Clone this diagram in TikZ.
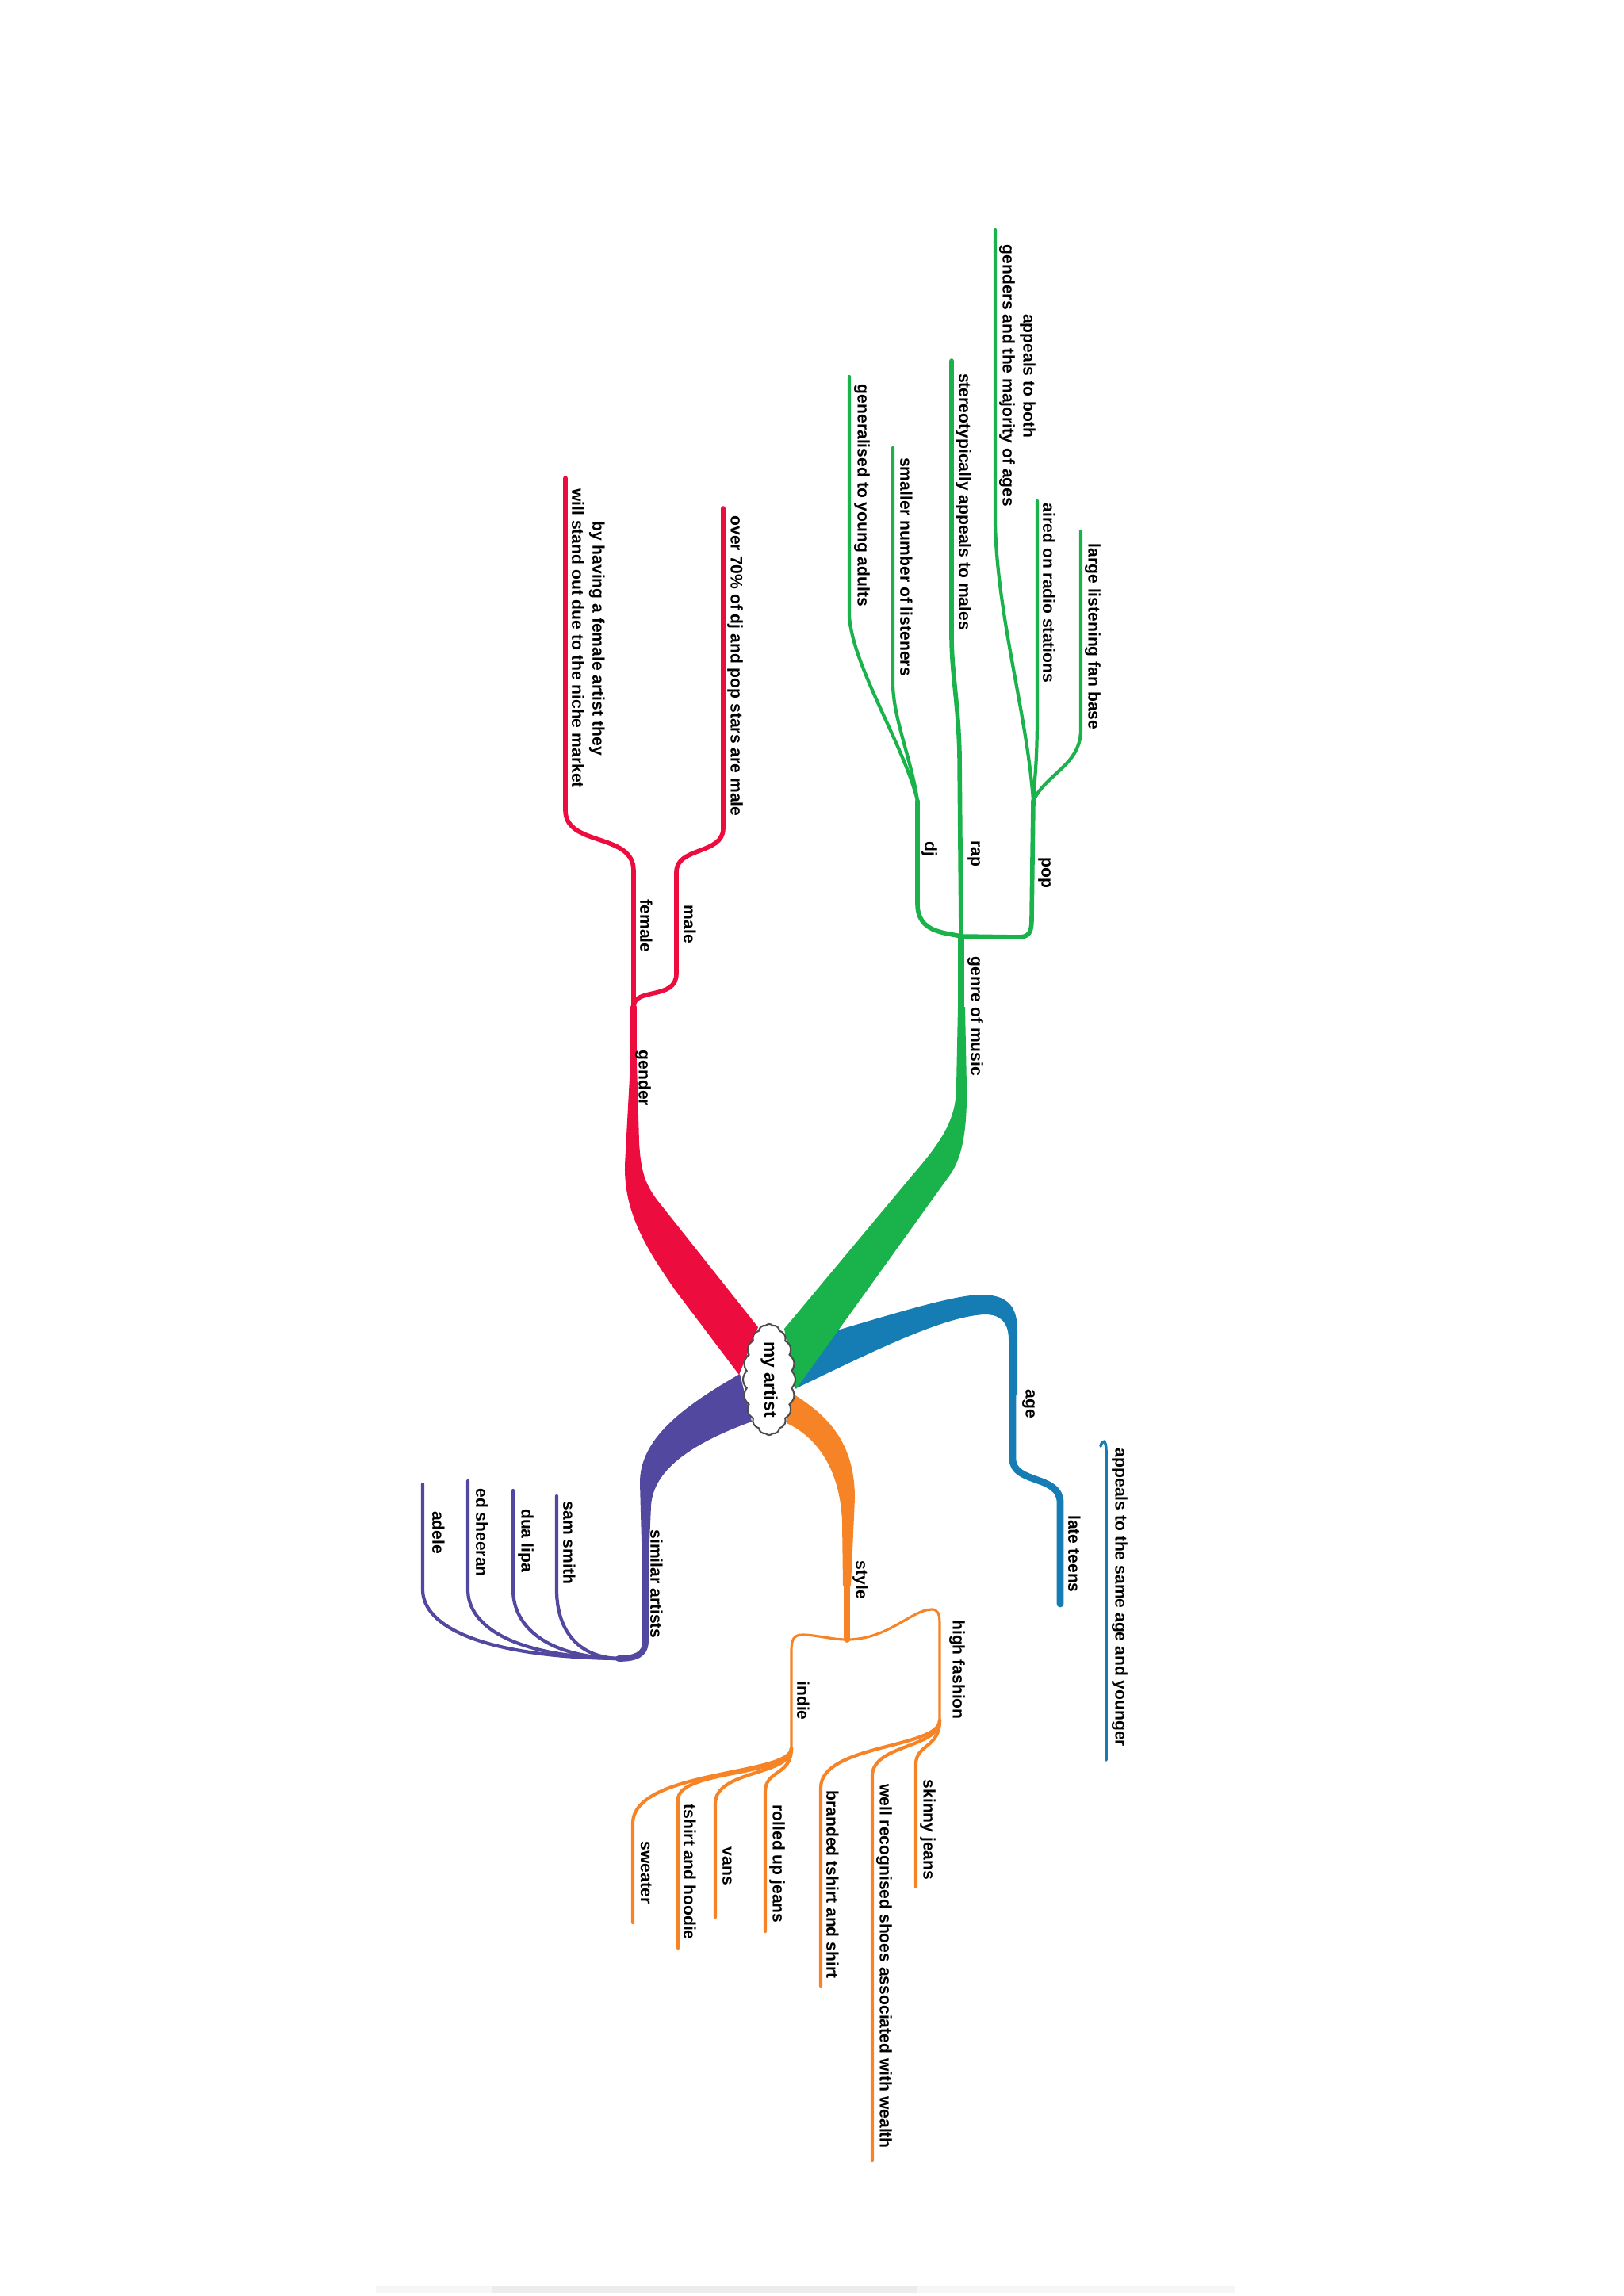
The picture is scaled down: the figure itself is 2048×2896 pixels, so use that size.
\documentclass[tikz,border=0pt]{standalone}
\usepackage{fontspec}
\setmainfont{Liberation Sans}
\usetikzlibrary{shapes.symbols}

\definecolor{branchred}{RGB}{236,12,62}
\definecolor{branchgreen}{RGB}{26,178,74}
\definecolor{branchblue}{RGB}{22,124,180}
\definecolor{branchpurple}{RGB}{82,72,160}
\definecolor{branchorange}{RGB}{246,132,38}

\tikzset{
    lbl/.style={rotate=-90, inner sep=0pt, align=center, font=\fontsize{6}{7.4}\selectfont\bfseries},
    stem/.style={line width=2.4pt, line cap=round},
    sub/.style={line width=1.6pt, line cap=round},
    twig/.style={line width=1.2pt, line cap=round},
    thread/.style={line width=0.9pt, line cap=round},
}

\begin{document}
\begin{tikzpicture}[x=0.01cm, y=-0.01cm]
            \useasboundingbox (0,0) rectangle (2048,2896);
            % faint scan edge
            \fill[gray!7] (474,2883) rectangle (1557,2892);
            \fill[gray!15] (621,2883) rectangle (1157,2892);

            % junctions and free ends
            \coordinate (jg) at (799,1270);
            \coordinate (male) at (912,641);
            \coordinate (female) at (713,603);
            \coordinate (jm) at (1212,1181);
            \coordinate (jdj) at (1157,1010);
            \coordinate (jpop) at (1303,1010);
            \coordinate (ja) at (780,2092);
            \coordinate (js) at (1068,2068);
            \coordinate (jhf) at (1185,2170);
            \coordinate (jin) at (998,2205);

            % gender
            \fill[branchred] (932,1734) -- (852,1628) .. controls (815,1575) and (787,1530) .. (788,1470) -- (795,1340) -- (803,1340) -- (806,1440) .. controls (808,1480) and (815,1495) .. (829,1514) -- (956,1674) -- cycle;
            \draw[branchred, stem, line width=2pt] (799,1345) -- (jg);
            \draw[branchred, sub] (jg) .. controls (799,1245) and (853,1262) .. (853,1228) -- (853,1100) .. controls (853,1068) and (912,1078) .. (912,1045) -- (male);
            \draw[branchred, sub] (jg) -- (799,1098) .. controls (799,1050) and (713,1068) .. (713,1022) -- (female);

            % similar artists
            \fill[branchpurple] (933,1733) .. controls (860,1775) and (807,1815) .. (807,1870) -- (809,1945) -- (819,1945) -- (821,1900) .. controls (823,1860) and (860,1825) .. (948,1793) -- cycle;
            \draw[branchpurple, stem, line width=2.2pt] (814,1940) -- (814,2070) .. controls (814,2088) and (800,2092) .. (ja);
            \foreach \lx/\ly/\lc in {702/1887/725, 647/1880/690, 590/1868/650, 533/1872/610}
                \draw[branchpurple, twig] (ja) .. controls (\lc,2090) and (\lx,2052) .. (\lx,2005) -- (\lx,\ly);

            % style
            \fill[branchorange] (995,1755) .. controls (1045,1785) and (1078,1820) .. (1078,1890) -- (1073,2000) -- (1063,2000) -- (1062,1920) .. controls (1060,1860) and (1035,1815) .. (992,1795) -- cycle;
            \draw[branchorange, stem, line width=2.2pt] (1068,1995) -- (js);
            \draw[branchorange, thread] (js) .. controls (1120,2068) and (1150,2030) .. (1175,2030) .. controls (1183,2030) and (1185,2036) .. (1185,2048) -- (jhf);
            \draw[branchorange, thread] (js) .. controls (1048,2068) and (1030,2062) .. (1012,2062) .. controls (1001,2062) and (998,2068) .. (998,2082) -- (jin);
            \foreach \lx/\ly/\lt in {1155/2380/2225, 1100/2725/2240, 1035/2505/2255}
                \draw[branchorange, twig] (jhf) .. controls (1185,2205) and (\lx,2200) .. (\lx,\lt) -- (\lx,\ly);
            \foreach \lx/\ly/\lt in {965/2436/2260, 902/2418/2275, 855/2457/2270, 798/2425/2300}
                \draw[branchorange, twig] (jin) .. controls (998,2240) and (\lx,2232) .. (\lx,\lt) -- (\lx,\ly);

            % age
            \fill[branchblue] (1000,1694) .. controls (1100,1666) and (1200,1632) .. (1240,1633) .. controls (1268,1634) and (1283,1645) .. (1283,1678) -- (1283,1760) -- (1272,1760) -- (1272,1690) .. controls (1272,1668) and (1262,1658) .. (1242,1658) .. controls (1190,1660) and (1100,1705) .. (1002,1752) -- cycle;
            \draw[branchblue, stem, line width=2.5pt] (1277,1755) -- (1277,1840) .. controls (1277,1872) and (1337,1860) .. (1337,1895) -- (1337,2023);
            \draw[branchblue, thread, line width=1pt] (1388,1824) .. controls (1390,1816) and (1395,1815) .. (1395,1830) -- (1395,2220);

            % genre of music
            \fill[branchgreen] (989,1676) -- (1150,1483) .. controls (1190,1437) and (1206,1410) .. (1206,1370) -- (1208,1270) -- (1217,1270) -- (1219,1370) .. controls (1220,1430) and (1212,1460) .. (1200,1479) -- (1004,1752) -- cycle;
            \draw[branchgreen, stem] (1212,1275) -- (jm);
            \draw[branchgreen, sub] (jm) -- (1210,950) .. controls (1208,880) and (1200,850) .. (1200,800) -- (1200,455);
            \draw[branchgreen, sub] (jm) .. controls (1190,1176) and (1157,1176) .. (1157,1140) -- (jdj);
            \draw[branchgreen, sub] (jm) -- (1285,1182) .. controls (1298,1182) and (1301,1175) .. (1301,1160) -- (jpop);
            \draw[branchgreen, twig] (jdj) .. controls (1140,940) and (1075,840) .. (1071,777) -- (1071,475);
            \draw[branchgreen, twig] (jdj) .. controls (1150,960) and (1126,905) .. (1126,862) -- (1126,565);
            \draw[branchgreen, twig] (jpop) .. controls (1305,980) and (1308,960) .. (1308,900) -- (1308,632);
            \draw[branchgreen, twig] (jpop) .. controls (1320,975) and (1363,965) .. (1363,920) -- (1363,670);
            \draw[branchgreen, twig] (jpop) .. controls (1295,900) and (1258,780) .. (1255,661) -- (1255,290);

            % centre
            \node[cloud, cloud puffs=20, cloud puff arc=95, cloud ignores aspect, draw=black!70, fill=white, line width=0.6pt,
                  minimum width=1.4cm, minimum height=0.66cm, rotate=-90, inner sep=0pt,
                  font=\fontsize{6.5}{7.4}\selectfont\bfseries] (artist) at (970,1740) {my artist};

            % labels
            \node[lbl] (gendertext) at (811,1360) {gender};
            \node[lbl] (femaletext) at (815,1168) {female};
            \node[lbl] (maletext) at (870,1166) {male};
            \node[lbl] (maletip) at (927,840) {over 70\% of dj and pop stars are male};
            \node[lbl] (femaletip) at (742,805) {by having a female artist they\\will stand out due to the niche market};
            \node[lbl] (genretext) at (1230,1282) {genre of music};
            \node[lbl] (djtext) at (1172,1071) {dj};
            \node[lbl] (raptext) at (1228,1077) {rap};
            \node[lbl] (poptext) at (1317,1101) {pop};
            \node[lbl] (poptipa) at (1378,803) {large listening fan base};
            \node[lbl] (poptipb) at (1323,748) {aired on radio stations};
            \node[lbl] (poptipc) at (1283,474) {appeals to both\\genders and the majority of ages};
            \node[lbl] (raptip) at (1215,633) {stereotypically appeals to males};
            \node[lbl] (djtipa) at (1143,715) {smaller number of listeners};
            \node[lbl] (djtipb) at (1087,625) {generalised to young adults};
            \node[lbl] (agetext) at (1297,1771) {age};
            \node[lbl] (teenstext) at (1355,1960) {late teens};
            \node[lbl] (agetip) at (1412,2015) {appeals to the same age and younger};
            \node[lbl] (styletext) at (1085,1993) {style};
            \node[lbl] (hftext) at (1207,2106) {high fashion};
            \node[lbl] (inditext) at (1013,2145) {indie};
            \node[lbl] (hftipa) at (1170,2308) {skinny jeans};
            \node[lbl] (hftipb) at (1115,2480) {well recognised shoes associated with wealth};
            \node[lbl] (hftipc) at (1050,2377) {branded tshirt and shirt};
            \node[lbl] (inditipa) at (980,2351) {rolled up jeans};
            \node[lbl] (inditipb) at (917,2354) {vans};
            \node[lbl] (inditipc) at (870,2361) {tshirt and hoodie};
            \node[lbl] (inditipd) at (815,2362) {sweater};
            \node[lbl] (similartext) at (828,1998) {similar artists};
            \node[lbl] (sam) at (718,1946) {sam smith};
            \node[lbl] (dua) at (663,1943) {dua lipa};
            \node[lbl] (ed) at (608,1933) {ed sheeran};
            \node[lbl] (adele) at (553,1933) {adele};
        \end{tikzpicture}
\end{document}
